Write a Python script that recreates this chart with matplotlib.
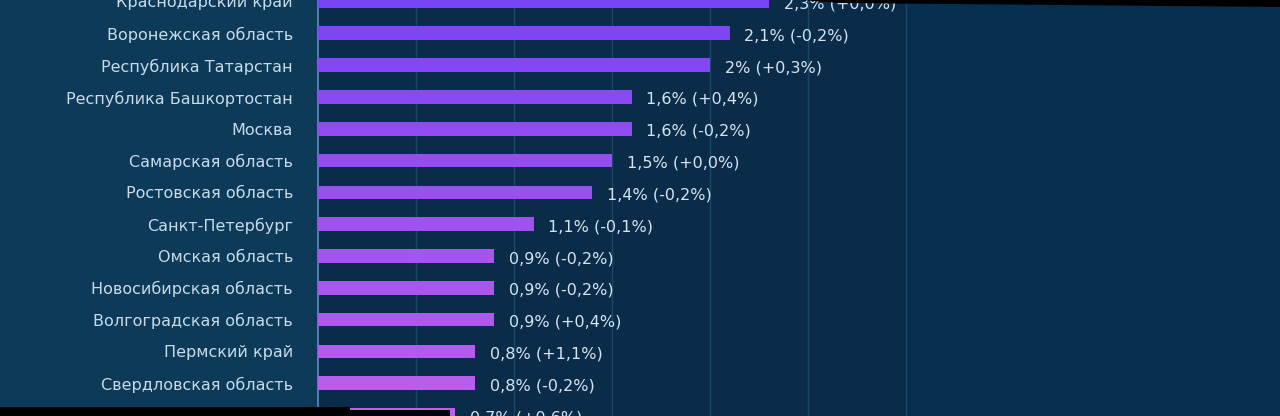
import matplotlib
matplotlib.use("Agg")
import matplotlib.pyplot as plt
from matplotlib.patches import Polygon
import numpy as np

regions = [
    "Краснодарский край",
    "Воронежская область",
    "Республика Татарстан",
    "Республика Башкортостан",
    "Москва",
    "Самарская область",
    "Ростовская область",
    "Санкт-Петербург",
    "Омская область",
    "Новосибирская область",
    "Волгоградская область",
    "Пермский край",
    "Свердловская область",
    "Красноярский край",
]
shares = [2.3, 2.1, 2.0, 1.6, 1.6, 1.5, 1.4, 1.1, 0.9, 0.9, 0.9, 0.8, 0.8, 0.7]
changes = [0.0, -0.2, 0.3, 0.4, -0.2, 0.0, -0.2, -0.1, -0.2, -0.2, 0.4, 1.1, -0.2, 0.6]
grid_ticks = [0.5, 1.0, 1.5, 2.0, 2.5, 3.0]

W, H = 1280, 416
fig = plt.figure(figsize=(W / 100, H / 100), dpi=100)
fig.patch.set_facecolor("#0e3a5a")

ax_left = 318 / W
ax = fig.add_axes([ax_left, 0, 1 - ax_left, 1])
ax.set_facecolor("#0a2c49")

n = len(regions)
ypos = np.arange(n)
c_top = np.array(matplotlib.colors.to_rgb("#7a43f4"))
c_bot = np.array(matplotlib.colors.to_rgb("#bc60ea"))
colors = [tuple(c_top + (c_bot - c_top) * i / (n - 1)) for i in range(n)]

ax.axvspan(3.0, 5.0, color="#06304f", zorder=0)
for t in grid_ticks:
    ax.axvline(t, color="#1c4868", lw=1.0, zorder=1)

ax.barh(ypos, shares, height=0.43, color=colors, zorder=3)

for y, v, c in zip(ypos, shares, changes):
    vs = f"{v:g}".replace(".", ",")
    cs = f"{c:+.1f}".replace(".", ",")
    ax.text(v + 0.075, y + 0.08, f"{vs}% ({cs}%)", va="center", ha="left",
            color="#d6e4ef", fontsize=11.5, zorder=4)

ax.set_xlim(0, (W - 318) / 196)
ax.set_ylim(13.03, -0.047)
ax.set_yticks(ypos)
ax.set_yticklabels(regions, color="#c9dbe8", fontsize=11.5)
ax.tick_params(axis="y", length=0, pad=18)
ax.set_xticks([])
for s in ["top", "right", "bottom"]:
    ax.spines[s].set_visible(False)
ax.spines["left"].set_color("#5b8fc0")
ax.spines["left"].set_linewidth(1.2)

# black frame edges of the original photo
fig.patches.append(Polygon([[0, 9 / H], [350 / W, 9 / H], [350 / W, 6 / H],
                            [450 / W, 6 / H], [450 / W, 0], [0, 0]],
                           closed=True, transform=fig.transFigure,
                           facecolor="black", edgecolor="none", zorder=10))
fig.patches.append(Polygon([[800 / W, 1], [840 / W, 1 - 3 / H], [1, 1 - 7 / H], [1, 1]],
                           closed=True, transform=fig.transFigure,
                           facecolor="black", edgecolor="none", zorder=10))

fig.savefig("out.png", dpi=100, facecolor=fig.get_facecolor())
